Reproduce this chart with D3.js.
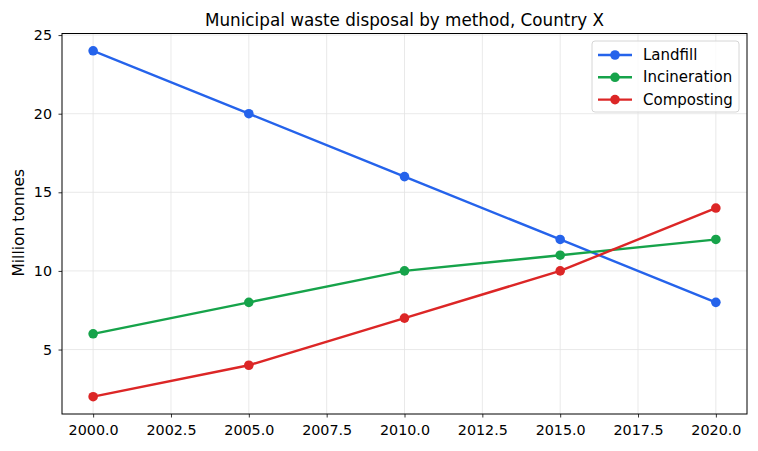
<!DOCTYPE html>
<html>
<head>
<meta charset="utf-8">
<script src="https://cdn.jsdelivr.net/npm/d3@7"></script>
<style>
  body { margin: 0; background: #fff; }
  text { font-family: "DejaVu Sans", sans-serif; fill: #000; }
</style>
</head>
<body>
<div id="chart"></div>
<script>
// Data
var years = [2000, 2005, 2010, 2015, 2020];
var landfill = [24, 20, 16, 12, 8];
var incineration = [6, 8, 10, 11, 12];
var composting = [2, 4, 7, 10, 14];
var xTicks = [2000, 2002.5, 2005, 2007.5, 2010, 2012.5, 2015, 2017.5, 2020];
var yTicks = [5, 10, 15, 20, 25];

var seriesNames = ["Landfill", "Incineration", "Composting"];
var seriesColors = ["#2563eb", "#16a34a", "#dc2626"];
var seriesValues = [landfill, incineration, composting];

var W = 758, H = 451;
var margin = {top: 33.5, right: 11, bottom: 37, left: 62},
  width = W - margin.left - margin.right,
  height = H - margin.top - margin.bottom;

var svg = d3.select("#chart")
  .append("svg")
  .attr("width", W)
  .attr("height", H);

var g = svg.append("g")
  .attr("transform", "translate(" + margin.left + "," + margin.top + ")");

var x = d3.scaleLinear().domain([1999, 2021]).range([0, width]);
var y = d3.scaleLinear().domain([0.9, 25.1]).range([height, 0]);

// Grid
g.append("g").selectAll("line")
  .data(xTicks).enter().append("line")
  .attr("x1", function(d) { return x(d); })
  .attr("x2", function(d) { return x(d); })
  .attr("y1", 0).attr("y2", height)
  .attr("stroke", "#e3e3e3").attr("stroke-width", 0.8);

g.append("g").selectAll("line")
  .data(yTicks).enter().append("line")
  .attr("y1", function(d) { return y(d); })
  .attr("y2", function(d) { return y(d); })
  .attr("x1", 0).attr("x2", width)
  .attr("stroke", "#e3e3e3").attr("stroke-width", 0.8);

// Axes
var xAxis = g.append("g")
  .attr("transform", "translate(0," + height + ")")
  .call(d3.axisBottom(x).tickValues(xTicks).tickFormat(d3.format(".1f")).tickSize(3.5).tickPadding(7.5));

var yAxis = g.append("g")
  .call(d3.axisLeft(y).tickValues(yTicks).tickFormat(d3.format("d")).tickSize(3.5).tickPadding(6.5));

[xAxis, yAxis].forEach(function(a) {
  a.select(".domain").remove();
  a.selectAll("line").attr("stroke", "#000").attr("stroke-width", 0.8);
  a.selectAll("text").style("font-size", "14.3px").style("font-family", "DejaVu Sans");
});

// Frame
g.append("rect")
  .attr("x", 0).attr("y", 0)
  .attr("width", width).attr("height", height)
  .attr("fill", "none").attr("stroke", "#000").attr("stroke-width", 1);

// Lines and markers
var line = d3.line()
  .x(function(d, i) { return x(years[i]); })
  .y(function(d) { return y(d); });

seriesValues.forEach(function(vals, k) {
  g.append("path")
    .datum(vals)
    .attr("d", line)
    .attr("fill", "none")
    .attr("stroke", seriesColors[k])
    .attr("stroke-width", 2.4)
    .attr("stroke-linejoin", "round")
    .attr("stroke-linecap", "square");

  g.selectAll(".dot" + k)
    .data(vals).enter()
    .append("circle")
    .attr("cx", function(d, i) { return x(years[i]); })
    .attr("cy", function(d) { return y(d); })
    .attr("r", 4.8)
    .attr("fill", seriesColors[k]);
});

// Title
svg.append("text")
  .attr("x", margin.left + width / 2)
  .attr("y", 25.5)
  .style("text-anchor", "middle")
  .style("font-size", "16.8px")
  .text("Municipal waste disposal by method, Country X");

// Y label
svg.append("text")
  .attr("transform", "rotate(-90)")
  .attr("x", -(margin.top + height / 2) + 1)
  .attr("y", 23.5)
  .style("text-anchor", "middle")
  .style("font-size", "15.5px")
  .text("Million tonnes");

// Legend
var legend = svg.append("g").attr("transform", "translate(592,41)");
legend.append("rect")
  .attr("width", 147).attr("height", 71)
  .attr("rx", 3)
  .attr("fill", "#fff").attr("fill-opacity", 0.8)
  .attr("stroke", "#d6d6d6");

seriesNames.forEach(function(name, k) {
  var ly = 14 + k * 22.3;
  legend.append("line")
    .attr("x1", 6).attr("x2", 40)
    .attr("y1", ly).attr("y2", ly)
    .attr("stroke", seriesColors[k]).attr("stroke-width", 2.4);
  legend.append("circle")
    .attr("cx", 23).attr("cy", ly).attr("r", 4.8)
    .attr("fill", seriesColors[k]);
  legend.append("text")
    .attr("x", 51).attr("y", ly + 5)
    .style("font-size", "15px")
    .text(name);
});
</script>
</body>
</html>
